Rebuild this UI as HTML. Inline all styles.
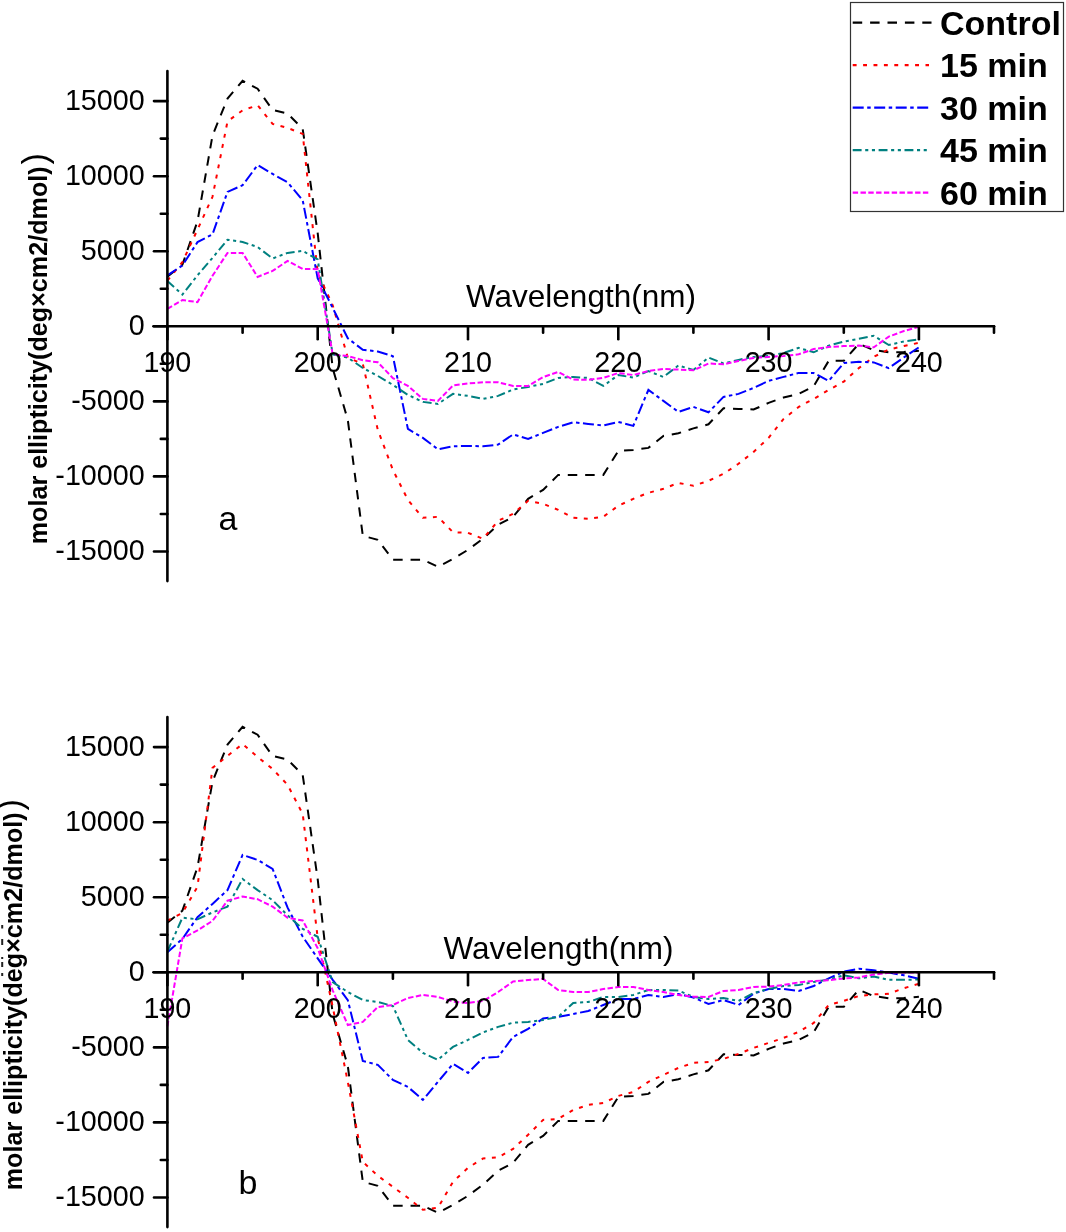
<!DOCTYPE html>
<html><head><meta charset="utf-8"><style>
html,body{margin:0;padding:0;background:#fff;}
svg{display:block;will-change:transform;}
text{font-family:"Liberation Sans",sans-serif;}
</style></head><body>
<svg width="1066" height="1232" viewBox="0 0 1066 1232">
<rect width="1066" height="1232" fill="#fff"/>
<polyline fill="none" stroke-width="2.0" stroke="#000" stroke-dasharray="9.5 7.9" points="167.4,276.8 182.4,264.7 197.5,221.2 212.5,135.5 227.5,98.6 242.6,80.8 257.6,88.7 272.6,110.0 287.6,113.6 302.7,128.9 317.7,233.2 332.7,368.3 347.8,419.9 362.8,535.8 377.8,539.8 392.9,559.8 407.9,559.8 422.9,559.8 437.9,566.8 453.0,559.0 468.0,549.8 483.0,538.7 498.1,524.8 513.1,516.8 528.1,498.8 543.1,489.9 558.2,474.9 573.2,474.9 588.2,474.9 603.3,474.9 618.3,450.9 633.3,449.9 648.4,447.9 663.4,435.9 678.4,433.2 693.4,428.4 708.5,424.3 723.5,408.3 738.5,408.9 753.6,409.5 768.6,402.9 783.6,397.5 798.7,393.9 813.7,386.3 828.7,360.8 843.8,360.8 858.8,343.9 873.8,350.1 888.8,352.3 903.9,352.0 918.9,350.7"/>
<polyline fill="none" stroke-width="2.0" stroke="#f00" stroke-dasharray="3.9 6.5" points="167.4,280.6 182.4,262.1 197.5,229.6 212.5,196.8 227.5,121.4 242.6,110.3 257.6,105.3 272.6,123.9 287.6,127.9 302.7,133.9 317.7,272.9 332.7,305.3 347.8,357.6 362.8,363.9 377.8,429.9 392.9,469.9 407.9,499.9 422.9,517.8 437.9,516.8 453.0,532.2 468.0,532.8 483.0,538.8 498.1,520.8 513.1,513.8 528.1,500.8 543.1,503.8 558.2,509.8 573.2,517.8 588.2,518.8 603.3,516.8 618.3,505.8 633.3,498.8 648.4,492.8 663.4,488.8 678.4,482.9 693.4,485.8 708.5,480.8 723.5,473.8 738.5,463.8 753.6,451.9 768.6,437.9 783.6,418.9 798.7,406.9 813.7,398.9 828.7,390.0 843.8,381.6 858.8,368.1 873.8,356.8 888.8,349.5 903.9,346.1 918.9,342.8"/>
<polyline fill="none" stroke-width="2.0" stroke="#00f" stroke-dasharray="11 3.5 3.5 3.5" points="167.4,275.3 182.4,265.5 197.5,242.1 212.5,234.3 227.5,191.9 242.6,185.2 257.6,165.1 272.6,173.9 287.6,182.3 302.7,200.3 317.7,278.3 332.7,307.9 347.8,338.3 362.8,349.7 377.8,351.6 392.9,356.2 407.9,428.9 422.9,437.9 437.9,449.3 453.0,446.3 468.0,445.9 483.0,446.3 498.1,444.6 513.1,434.4 528.1,438.9 543.1,432.9 558.2,426.9 573.2,422.3 588.2,423.9 603.3,425.5 618.3,421.9 633.3,425.9 648.4,389.9 663.4,400.9 678.4,411.9 693.4,406.9 708.5,412.3 723.5,396.9 738.5,393.9 753.6,387.9 768.6,380.9 783.6,376.9 798.7,372.9 813.7,372.9 828.7,380.9 843.8,363.0 858.8,361.8 873.8,362.4 888.8,368.1 903.9,357.4 918.9,347.3"/>
<polyline fill="none" stroke-width="2.0" stroke="#008080" stroke-dasharray="8.9 3.6 3.1 3.6 3.1 3.6" points="167.4,281.1 182.4,294.6 197.5,275.3 212.5,257.9 227.5,239.7 242.6,242.0 257.6,247.0 272.6,258.5 287.6,252.9 302.7,250.9 317.7,259.5 332.7,354.4 347.8,357.6 362.8,368.0 377.8,375.9 392.9,384.9 407.9,394.9 422.9,401.9 437.9,403.9 453.0,393.9 468.0,395.9 483.0,398.9 498.1,395.9 513.1,389.5 528.1,386.9 543.1,383.9 558.2,377.9 573.2,377.0 588.2,377.9 603.3,385.9 618.3,375.0 633.3,377.6 648.4,371.0 663.4,377.0 678.4,365.5 693.4,369.9 708.5,357.5 723.5,363.5 738.5,359.9 753.6,356.9 768.6,356.0 783.6,352.9 798.7,347.9 813.7,352.3 828.7,345.6 843.8,341.6 858.8,338.8 873.8,335.8 888.8,345.0 903.9,341.4 918.9,339.4"/>
<polyline fill="none" stroke-width="2.0" stroke="#f0f" stroke-dasharray="5.4 2.4" points="167.4,308.9 182.4,300.1 197.5,302.1 212.5,275.8 227.5,252.9 242.6,252.9 257.6,276.9 272.6,270.9 287.6,260.9 302.7,268.9 317.7,269.2 332.7,354.4 347.8,356.0 362.8,360.2 377.8,362.3 392.9,378.1 407.9,385.9 422.9,398.9 437.9,400.9 453.0,385.5 468.0,383.5 483.0,382.3 498.1,382.3 513.1,385.9 528.1,385.9 543.1,377.0 558.2,372.0 573.2,379.6 588.2,379.9 603.3,377.9 618.3,373.0 633.3,375.0 648.4,371.0 663.4,369.0 678.4,369.6 693.4,370.3 708.5,363.5 723.5,364.3 738.5,361.0 753.6,357.9 768.6,356.9 783.6,356.0 798.7,354.3 813.7,349.0 828.7,347.0 843.8,346.1 858.8,345.6 873.8,347.3 888.8,336.6 903.9,331.0 918.9,326.8"/>
<g stroke="#000" stroke-width="2.6" stroke-linecap="round">
<line x1="167.4" y1="71.1" x2="167.4" y2="581.1"/>
<line x1="153.5" y1="326.3" x2="994.0" y2="326.3"/>
<line x1="154.0" y1="551.5" x2="167.4" y2="551.5"/>
<line x1="160.8" y1="514.0" x2="167.4" y2="514.0"/>
<line x1="154.0" y1="476.4" x2="167.4" y2="476.4"/>
<line x1="160.8" y1="438.9" x2="167.4" y2="438.9"/>
<line x1="154.0" y1="401.4" x2="167.4" y2="401.4"/>
<line x1="160.8" y1="363.8" x2="167.4" y2="363.8"/>
<line x1="154.0" y1="326.3" x2="167.4" y2="326.3"/>
<line x1="160.8" y1="288.8" x2="167.4" y2="288.8"/>
<line x1="154.0" y1="251.2" x2="167.4" y2="251.2"/>
<line x1="160.8" y1="213.7" x2="167.4" y2="213.7"/>
<line x1="154.0" y1="176.2" x2="167.4" y2="176.2"/>
<line x1="160.8" y1="138.6" x2="167.4" y2="138.6"/>
<line x1="154.0" y1="101.1" x2="167.4" y2="101.1"/>
<line x1="167.4" y1="326.3" x2="167.4" y2="339.3"/>
<line x1="242.6" y1="326.3" x2="242.6" y2="332.8"/>
<line x1="317.7" y1="326.3" x2="317.7" y2="339.3"/>
<line x1="392.9" y1="326.3" x2="392.9" y2="332.8"/>
<line x1="468.0" y1="326.3" x2="468.0" y2="339.3"/>
<line x1="543.1" y1="326.3" x2="543.1" y2="332.8"/>
<line x1="618.3" y1="326.3" x2="618.3" y2="339.3"/>
<line x1="693.4" y1="326.3" x2="693.4" y2="332.8"/>
<line x1="768.6" y1="326.3" x2="768.6" y2="339.3"/>
<line x1="843.8" y1="326.3" x2="843.8" y2="332.8"/>
<line x1="918.9" y1="326.3" x2="918.9" y2="339.3"/>
<line x1="994.0" y1="326.3" x2="994.0" y2="332.8"/>
</g>
<g font-family="Liberation Sans" font-size="28.7" fill="#000">
<text x="144.7" y="559.9" text-anchor="end">-15000</text>
<text x="144.7" y="484.8" text-anchor="end">-10000</text>
<text x="144.7" y="409.8" text-anchor="end">-5000</text>
<text x="144.7" y="334.7" text-anchor="end">0</text>
<text x="144.7" y="259.6" text-anchor="end">5000</text>
<text x="144.7" y="184.6" text-anchor="end">10000</text>
<text x="144.7" y="109.5" text-anchor="end">15000</text>
<text x="167.4" y="372.3" text-anchor="middle">190</text>
<text x="317.7" y="372.3" text-anchor="middle">200</text>
<text x="468.0" y="372.3" text-anchor="middle">210</text>
<text x="618.3" y="372.3" text-anchor="middle">220</text>
<text x="768.6" y="372.3" text-anchor="middle">230</text>
<text x="918.9" y="372.3" text-anchor="middle">240</text>
</g>
<text x="466.0" y="306.5" font-family="Liberation Sans" font-size="31.5">Wavelength(nm)</text>
<text transform="translate(46.7,544.3) rotate(-90)" font-family="Liberation Sans" font-weight="bold" font-size="25.15">molar ellipticity(deg×cm2/dmol)<tspan dx="2" font-size="34.5" font-weight="normal">)</tspan></text>
<text x="218.5" y="530.0" font-family="Liberation Sans" font-size="34">a</text>
<polyline fill="none" stroke-width="2.0" stroke="#000" stroke-dasharray="9.5 7.9" points="167.4,922.8 182.4,910.7 197.5,867.2 212.5,781.5 227.5,744.6 242.6,726.8 257.6,734.7 272.6,756.0 287.6,759.6 302.7,774.9 317.7,879.2 332.7,1014.3 347.8,1065.9 362.8,1181.8 377.8,1185.8 392.9,1205.8 407.9,1205.8 422.9,1205.8 437.9,1212.8 453.0,1205.0 468.0,1195.8 483.0,1184.7 498.1,1170.8 513.1,1162.8 528.1,1144.8 543.1,1135.9 558.2,1120.9 573.2,1120.9 588.2,1120.9 603.3,1120.9 618.3,1096.9 633.3,1095.9 648.4,1093.9 663.4,1081.9 678.4,1079.2 693.4,1074.4 708.5,1070.3 723.5,1054.3 738.5,1054.9 753.6,1055.5 768.6,1048.9 783.6,1043.5 798.7,1039.9 813.7,1032.3 828.7,1006.8 843.8,1006.8 858.8,989.9 873.8,996.1 888.8,998.3 903.9,998.0 918.9,996.7"/>
<polyline fill="none" stroke-width="2.0" stroke="#f00" stroke-dasharray="3.9 6.5" points="167.4,920.7 182.4,913.0 197.5,886.7 212.5,767.9 227.5,755.9 242.6,744.0 257.6,757.0 272.6,768.9 287.6,784.9 302.7,813.9 317.7,937.8 332.7,1006.8 347.8,1081.9 362.8,1161.8 377.8,1175.8 392.9,1186.8 407.9,1197.8 422.9,1209.8 437.9,1207.8 453.0,1181.8 468.0,1167.8 483.0,1158.5 498.1,1157.4 513.1,1148.9 528.1,1134.8 543.1,1119.9 558.2,1118.9 573.2,1109.9 588.2,1104.9 603.3,1102.9 618.3,1095.9 633.3,1091.9 648.4,1081.9 663.4,1074.9 678.4,1067.9 693.4,1062.9 708.5,1061.9 723.5,1058.9 738.5,1053.9 753.6,1047.9 768.6,1042.9 783.6,1037.9 798.7,1031.9 813.7,1022.9 828.7,1005.0 843.8,1000.8 858.8,996.0 873.8,994.4 888.8,993.8 903.9,988.2 918.9,983.7"/>
<polyline fill="none" stroke-width="2.0" stroke="#00f" stroke-dasharray="11 3.5 3.5 3.5" points="167.4,952.2 182.4,938.9 197.5,917.2 212.5,903.9 227.5,890.1 242.6,854.9 257.6,859.9 272.6,868.9 287.6,907.7 302.7,936.6 317.7,958.4 332.7,979.8 347.8,1000.1 362.8,1060.9 377.8,1064.9 392.9,1079.9 407.9,1086.9 422.9,1099.9 437.9,1081.9 453.0,1063.9 468.0,1072.9 483.0,1057.9 498.1,1056.9 513.1,1036.9 528.1,1028.9 543.1,1018.4 558.2,1016.9 573.2,1014.0 588.2,1011.0 603.3,1005.0 618.3,999.0 633.3,999.0 648.4,995.0 663.4,997.0 678.4,994.0 693.4,997.5 708.5,1004.0 723.5,1000.0 738.5,1005.0 753.6,993.6 768.6,989.0 783.6,989.0 798.7,991.0 813.7,986.0 828.7,978.3 843.8,971.6 858.8,968.8 873.8,970.2 888.8,972.5 903.9,975.3 918.9,978.7"/>
<polyline fill="none" stroke-width="2.0" stroke="#008080" stroke-dasharray="8.9 3.6 3.1 3.6 3.1 3.6" points="167.4,951.6 182.4,917.7 197.5,919.3 212.5,912.4 227.5,906.6 242.6,879.0 257.6,890.1 272.6,900.2 287.6,915.3 302.7,928.9 317.7,936.8 332.7,982.1 347.8,992.0 362.8,1000.0 377.8,1002.0 392.9,1006.0 407.9,1039.9 422.9,1052.9 437.9,1059.9 453.0,1046.9 468.0,1039.9 483.0,1032.4 498.1,1026.9 513.1,1022.7 528.1,1021.9 543.1,1020.0 558.2,1016.9 573.2,1003.0 588.2,1002.0 603.3,997.0 618.3,997.0 633.3,995.0 648.4,990.0 663.4,990.0 678.4,990.5 693.4,997.0 708.5,999.0 723.5,998.0 738.5,1001.0 753.6,993.0 768.6,989.0 783.6,986.0 798.7,985.0 813.7,982.0 828.7,979.4 843.8,975.3 858.8,978.3 873.8,976.6 888.8,979.8 903.9,979.8 918.9,979.5"/>
<polyline fill="none" stroke-width="2.0" stroke="#f0f" stroke-dasharray="5.4 2.4" points="167.4,1026.3 182.4,938.4 197.5,930.4 212.5,920.9 227.5,900.7 242.6,896.5 257.6,899.2 272.6,906.6 287.6,917.7 302.7,920.5 317.7,948.2 332.7,990.3 347.8,1025.0 362.8,1021.9 377.8,1007.0 392.9,1005.0 407.9,998.0 422.9,995.0 437.9,997.0 453.0,1001.6 468.0,1003.0 483.0,1001.0 498.1,992.0 513.1,981.5 528.1,980.0 543.1,979.0 558.2,990.0 573.2,992.0 588.2,992.0 603.3,989.0 618.3,987.0 633.3,987.0 648.4,990.0 663.4,992.0 678.4,995.0 693.4,996.7 708.5,997.0 723.5,991.0 738.5,990.0 753.6,987.0 768.6,986.6 783.6,985.0 798.7,982.4 813.7,981.0 828.7,980.2 843.8,978.5 858.8,977.4 873.8,974.6 888.8,972.8 903.9,972.5 918.9,972.5"/>
<g stroke="#000" stroke-width="2.6" stroke-linecap="round">
<line x1="167.4" y1="717.1" x2="167.4" y2="1227.1"/>
<line x1="153.5" y1="972.3" x2="994.0" y2="972.3"/>
<line x1="154.0" y1="1197.5" x2="167.4" y2="1197.5"/>
<line x1="160.8" y1="1160.0" x2="167.4" y2="1160.0"/>
<line x1="154.0" y1="1122.4" x2="167.4" y2="1122.4"/>
<line x1="160.8" y1="1084.9" x2="167.4" y2="1084.9"/>
<line x1="154.0" y1="1047.4" x2="167.4" y2="1047.4"/>
<line x1="160.8" y1="1009.8" x2="167.4" y2="1009.8"/>
<line x1="154.0" y1="972.3" x2="167.4" y2="972.3"/>
<line x1="160.8" y1="934.8" x2="167.4" y2="934.8"/>
<line x1="154.0" y1="897.2" x2="167.4" y2="897.2"/>
<line x1="160.8" y1="859.7" x2="167.4" y2="859.7"/>
<line x1="154.0" y1="822.2" x2="167.4" y2="822.2"/>
<line x1="160.8" y1="784.6" x2="167.4" y2="784.6"/>
<line x1="154.0" y1="747.1" x2="167.4" y2="747.1"/>
<line x1="167.4" y1="972.3" x2="167.4" y2="985.3"/>
<line x1="242.6" y1="972.3" x2="242.6" y2="978.8"/>
<line x1="317.7" y1="972.3" x2="317.7" y2="985.3"/>
<line x1="392.9" y1="972.3" x2="392.9" y2="978.8"/>
<line x1="468.0" y1="972.3" x2="468.0" y2="985.3"/>
<line x1="543.1" y1="972.3" x2="543.1" y2="978.8"/>
<line x1="618.3" y1="972.3" x2="618.3" y2="985.3"/>
<line x1="693.4" y1="972.3" x2="693.4" y2="978.8"/>
<line x1="768.6" y1="972.3" x2="768.6" y2="985.3"/>
<line x1="843.8" y1="972.3" x2="843.8" y2="978.8"/>
<line x1="918.9" y1="972.3" x2="918.9" y2="985.3"/>
<line x1="994.0" y1="972.3" x2="994.0" y2="978.8"/>
</g>
<g font-family="Liberation Sans" font-size="28.7" fill="#000">
<text x="144.7" y="1205.9" text-anchor="end">-15000</text>
<text x="144.7" y="1130.8" text-anchor="end">-10000</text>
<text x="144.7" y="1055.8" text-anchor="end">-5000</text>
<text x="144.7" y="980.7" text-anchor="end">0</text>
<text x="144.7" y="905.6" text-anchor="end">5000</text>
<text x="144.7" y="830.6" text-anchor="end">10000</text>
<text x="144.7" y="755.5" text-anchor="end">15000</text>
<text x="167.4" y="1018.3" text-anchor="middle">190</text>
<text x="317.7" y="1018.3" text-anchor="middle">200</text>
<text x="468.0" y="1018.3" text-anchor="middle">210</text>
<text x="618.3" y="1018.3" text-anchor="middle">220</text>
<text x="768.6" y="1018.3" text-anchor="middle">230</text>
<text x="918.9" y="1018.3" text-anchor="middle">240</text>
</g>
<text x="443.5" y="959.3" font-family="Liberation Sans" font-size="31.5">Wavelength(nm)</text>
<text transform="translate(22.2,1190.3) rotate(-90)" font-family="Liberation Sans" font-weight="bold" font-size="25.15">molar ellipticity(deg×cm2/dmol)<tspan dx="2" font-size="34.5" font-weight="normal">)</tspan></text>
<text x="238.5" y="1194.0" font-family="Liberation Sans" font-size="34">b</text>
<rect x="850.5" y="2.5" width="213" height="209" fill="#fff" stroke="#333" stroke-width="1.2"/>
<line x1="852.7" y1="22.6" x2="931.5" y2="22.6" stroke-width="2.2" stroke="#000" stroke-dasharray="9.5 7.9"/>
<text x="940" y="34.9" font-family="Liberation Sans" font-weight="bold" font-size="34">Control</text>
<line x1="852.7" y1="65.1" x2="929.0" y2="65.1" stroke-width="2.2" stroke="#f00" stroke-dasharray="3.9 6.5"/>
<text x="940" y="77.4" font-family="Liberation Sans" font-weight="bold" font-size="34">15 min</text>
<line x1="852.7" y1="107.6" x2="929.0" y2="107.6" stroke-width="2.2" stroke="#00f" stroke-dasharray="11 3.5 3.5 3.5"/>
<text x="940" y="119.9" font-family="Liberation Sans" font-weight="bold" font-size="34">30 min</text>
<line x1="852.7" y1="150.1" x2="929.0" y2="150.1" stroke-width="2.2" stroke="#008080" stroke-dasharray="8.9 3.6 3.1 3.6 3.1 3.6"/>
<text x="940" y="162.4" font-family="Liberation Sans" font-weight="bold" font-size="34">45 min</text>
<line x1="852.7" y1="192.6" x2="929.0" y2="192.6" stroke-width="2.2" stroke="#f0f" stroke-dasharray="5.4 2.4"/>
<text x="940" y="204.9" font-family="Liberation Sans" font-weight="bold" font-size="34">60 min</text>
<g stroke="#222" stroke-width="2"><line x1="2.2" y1="925" x2="2.2" y2="928.5"/><line x1="2.2" y1="939" x2="2.2" y2="945"/><line x1="2.2" y1="957" x2="2.2" y2="959"/><line x1="2.2" y1="962" x2="2.2" y2="967"/><line x1="2.2" y1="973" x2="2.2" y2="976"/></g>
</svg>
</body></html>
